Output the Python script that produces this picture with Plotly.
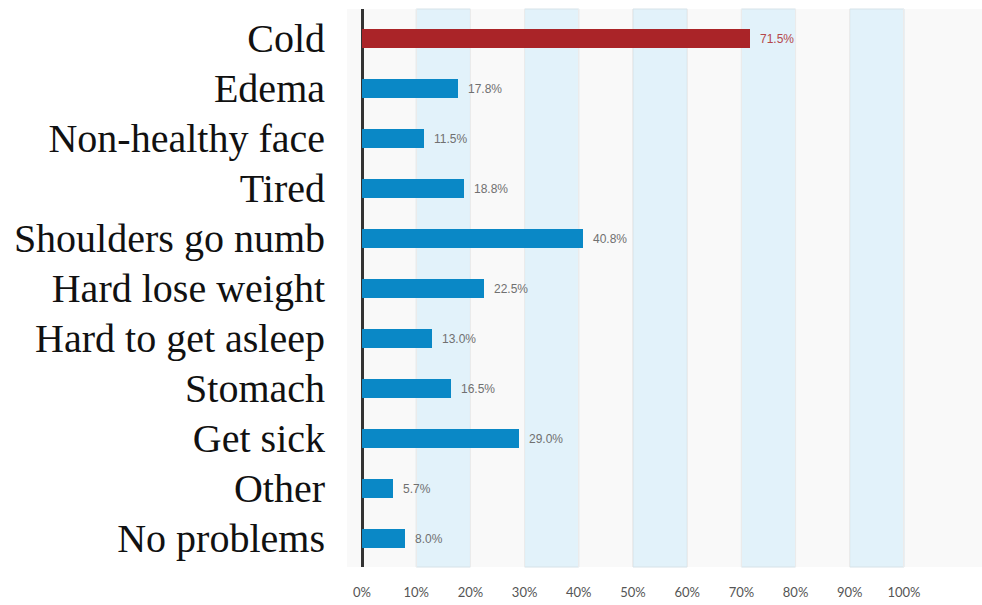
import plotly.graph_objects as go

categories = ["Cold", "Edema", "Non-healthy face", "Tired", "Shoulders go numb",
              "Hard lose weight", "Hard to get asleep", "Stomach", "Get sick",
              "Other", "No problems"]
values = [71.5, 17.8, 11.5, 18.8, 40.8, 22.5, 13.0, 16.5, 29.0, 5.7, 8.0]
tick_vals = [0, 10, 20, 30, 40, 50, 60, 70, 80, 90, 100]
tick_text = ["0%", "10%", "20%", "30%", "40%", "50%", "60%", "70%", "80%", "90%", "100%"]

RED = "#AA2428"
BLUE = "#0A88C6"
colors = [RED if i == 0 else BLUE for i in range(len(values))]
label_colors = ["#B5474A" if i == 0 else "#707070" for i in range(len(values))]

fig = go.Figure()
fig.add_trace(go.Bar(
    y=categories, x=values, orientation="h",
    marker=dict(color=colors, line=dict(width=0)),
    width=0.38, hoverinfo="skip",
))

for c, v, lc in zip(categories, values, label_colors):
    fig.add_annotation(x=v, y=c, text=f"{v:.1f}%", showarrow=False,
                       xanchor="left", xshift=8, yshift=-1,
                       font=dict(family="Liberation Sans, Arial", size=12, color=lc))

# shaded bands between alternate gridlines
for a, b in zip(tick_vals[1::2], tick_vals[2::2]):
    fig.add_shape(type="rect", x0=a, x1=b, y0=0, y1=1, yref="paper",
                  fillcolor="#E2F2FA", line=dict(color="#D6E2E8", width=1),
                  layer="below")

fig.update_layout(
    width=982, height=605,
    margin=dict(l=347, r=0, t=9, b=38),
    paper_bgcolor="white",
    plot_bgcolor="#F9F9F9",
    showlegend=False,
    bargap=0,
    xaxis=dict(range=[-2.77, 114.4], tickvals=tick_vals, ticktext=tick_text,
               showgrid=True, gridcolor="#EBEBEB", gridwidth=1,
               zeroline=True, zerolinecolor="#333333", zerolinewidth=3,
               ticks="", ticklabelstandoff=16,
               tickfont=dict(family="Lato, Open Sans", size=13, color="#555555"),
               fixedrange=True),
    yaxis=dict(type="category", categoryorder="array", categoryarray=categories,
               range=[10.58, -0.58], showgrid=False, zeroline=False,
               ticks="", ticklabelstandoff=21,
               tickfont=dict(family="Liberation Serif, Times New Roman", size=40, color="#111111"),
               fixedrange=True),
)

fig.write_html("out.html")
